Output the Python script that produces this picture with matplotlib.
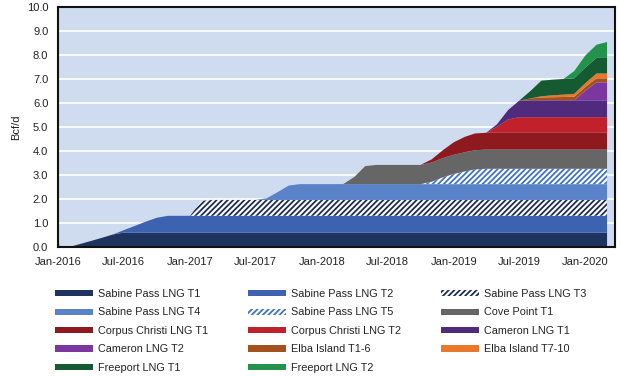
import matplotlib
matplotlib.use('Agg')
import matplotlib.pyplot as plt
import matplotlib.dates as mdates
import pandas as pd

plt.rcParams['font.family'] = ['Liberation Sans', 'DejaVu Sans']
plt.rcParams['hatch.linewidth'] = 1.3

# monthly export capacity (Bcf/d), Jan-2016 .. Mar-2020
months = pd.date_range('2016-01-01', '2020-03-01', freq='MS')

sabine_t1 = [0, 0, 0.12, 0.25, 0.38, 0.52] + [0.6] * 45
sabine_t2 = [0, 0, 0, 0, 0, 0, 0.1, 0.28, 0.46, 0.62] + [0.7] * 41
sabine_t3 = [0] * 12 + [0.0, 0.62] + [0.66] * 37
sabine_t4 = [0] * 19 + [0.07, 0.33, 0.6] + [0.66] * 29
sabine_t5 = [0] * 34 + [0.1, 0.28, 0.42, 0.53, 0.61] + [0.64] * 12
cove_t1 = [0] * 27 + [0.3, 0.75] + [0.8] * 22
corpus_t1 = [0] * 34 + [0.13, 0.32, 0.52, 0.64] + [0.7] * 13
corpus_t2 = [0] * 40 + [0.25, 0.55] + [0.65] * 9
cameron_t1 = [0] * 40 + [0.1, 0.4, 0.68] + [0.7] * 8
cameron_t2 = [0] * 48 + [0.4, 0.75, 0.75]
elba_1_6 = [0] * 43 + [0.08, 0.12, 0.13, 0.14, 0.15, 0.16, 0.17, 0.17]
elba_7_10 = [0] * 44 + [0.05, 0.08, 0.1, 0.12, 0.16, 0.2, 0.2]
freeport_t1 = [0] * 43 + [0.3] + [0.65] * 7
freeport_t2 = [0] * 47 + [0.3, 0.5, 0.55, 0.66]

labels = ['Sabine Pass LNG T1', 'Sabine Pass LNG T2', 'Sabine Pass LNG T3',
          'Sabine Pass LNG T4', 'Sabine Pass LNG T5', 'Cove Point T1',
          'Corpus Christi LNG T1', 'Corpus Christi LNG T2', 'Cameron LNG T1',
          'Cameron LNG T2', 'Elba Island T1-6', 'Elba Island T7-10',
          'Freeport LNG T1', 'Freeport LNG T2']
series = [sabine_t1, sabine_t2, sabine_t3, sabine_t4, sabine_t5, cove_t1,
          corpus_t1, corpus_t2, cameron_t1, cameron_t2, elba_1_6, elba_7_10,
          freeport_t1, freeport_t2]
colors = ['#1e335e', '#3d63b0', '#1e2d58', '#5a82c8', '#3f72c8', '#666666',
          '#8e1a1f', '#c0212a', '#502a7c', '#7c36a0', '#a4501f', '#e8782a',
          '#155a30', '#23924a']
hatched = {2, 4}

fig = plt.figure(figsize=(6.2, 3.76), dpi=100)
ax = fig.add_axes([58 / 620, 1 - 247 / 376, 557 / 620, 240 / 376])
ax.set_facecolor('#cfdcf0')

polys = ax.stackplot(months, series, colors=colors, labels=labels, lw=0, zorder=2)
for i, p in enumerate(polys):
    if i in hatched:
        p.set_facecolor('white')
        p.set_edgecolor(colors[i])
        p.set_hatch('//////')
        p.set_linewidth(0)

ax.set_ylim(0, 10)
ax.set_xlim(pd.Timestamp('2016-01-01'), pd.Timestamp('2020-03-23'))
ax.set_yticks([i for i in range(11)])
ax.yaxis.set_major_formatter(plt.FormatStrFormatter('%.1f'))
for v in range(1, 10):
    ax.axhline(v, color='white', lw=1.2, zorder=1)

ax.xaxis.set_major_locator(mdates.MonthLocator(bymonth=[1, 7]))
ax.xaxis.set_major_formatter(mdates.DateFormatter('%b-%Y'))
ax.tick_params(axis='x', direction='in', length=3, width=1, pad=7.5,
               labelsize=8, colors='#222222')
ax.tick_params(axis='y', length=0, pad=7, labelsize=8, colors='#222222')
for s in ax.spines.values():
    s.set_linewidth(1.5)
    s.set_color('#111111')
    s.set_zorder(5)

fig.text(16 / 620, 1 - 127 / 376, 'Bcf/d', rotation=90, ha='center',
         va='center', fontsize=8, color='#222222')

# legend in three columns, row-major like the original
handles, labs = ax.get_legend_handles_labels()
col_x = [55, 248, 441]
for c in range(3):
    idx = list(range(c, len(labels), 3))
    leg = fig.legend([handles[i] for i in idx], [labs[i] for i in idx],
                     loc='upper left', bbox_to_anchor=(col_x[c] / 620, 1 - 289 / 376),
                     frameon=False, borderpad=0, borderaxespad=0,
                     fontsize=7.8, handlelength=3.5, handleheight=0.5,
                     handletextpad=0.45, labelspacing=0.78)
    for t in leg.get_texts():
        t.set_color('#222222')

fig.savefig('out.png', dpi=100)
